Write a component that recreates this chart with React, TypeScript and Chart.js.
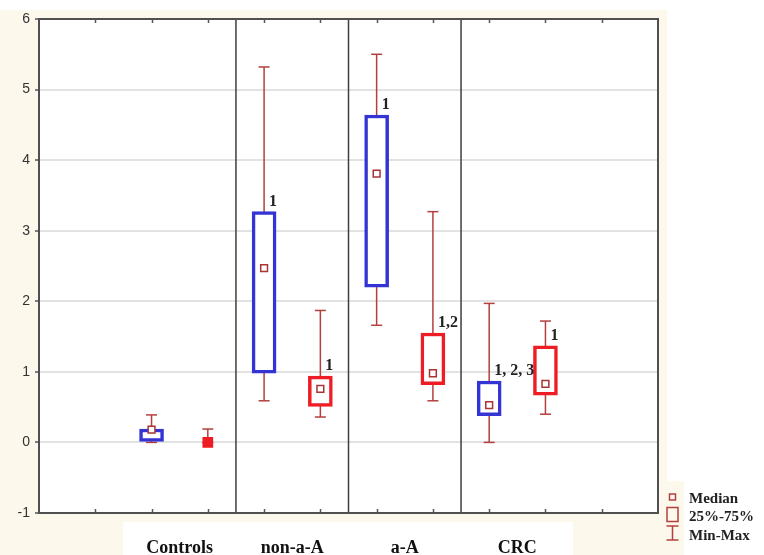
import React, { useEffect, useRef } from 'react';
import { Chart, registerables } from 'chart.js';

Chart.register(...registerables);

// ---- data ----
const categories = ['Controls', 'non-a-A', 'a-A', 'CRC'];

const blueMin = [0, 0.59, 1.66, 0];
const blueQ1 = [0, 0.98, 2.2, 0.38];
const blueMedian = [0.18, 2.47, 3.81, 0.53];
const blueQ3 = [0.19, 3.27, 4.64, 0.87];
const blueMax = [0.39, 5.32, 5.5, 1.97];

const redMin = [0, 0.36, 0.59, 0.4];
const redQ1 = [0, 0.51, 0.82, 0.67];
const redMedian = [0, 0.76, 0.98, 0.83];
const redQ3 = [0, 0.94, 1.55, 1.37];
const redMax = [0.19, 1.87, 3.27, 1.72];

const blueNotes = ['', '1', '1', '1, 2, 3'];
const redNotes = ['', '1', '1,2', '1'];

const yTicks = [-1, 0, 1, 2, 3, 4, 5, 6];
const xTickMarks = [0.5, 1, 1.5, 2, 2.5, 3, 3.5, 4, 4.5, 5];
const legendLabels = ['Median', '25%-75%', 'Min-Max'];

// ---- styles ----
const BLUE = '#3434d4';
const RED = '#ee1c24';
const WHISKER = '#b3403f';
const MEDIAN = '#a83434';
const CREAM = '#fdf8ec';
const SERIF = "'Liberation Serif', 'Times New Roman', serif";
const SANS = "'Liberation Sans', Arial, sans-serif";

const blueX = categories.map((_, i) => i + 1);
const redX = categories.map((_, i) => i + 1.5);
const dividerX = categories.slice(0, -1).map((_, i) => i + 1.75);
const labelX = categories.map((_, i) => i + 1.25);

const whiskerData: any[] = [];
categories.forEach((_, i) => {
  whiskerData.push({ x: blueX[i], y: blueMin[i] }, { x: blueX[i], y: blueMax[i] }, { x: blueX[i], y: null });
  whiskerData.push({ x: redX[i], y: redMin[i] }, { x: redX[i], y: redMax[i] }, { x: redX[i], y: null });
});

const boxData: any[] = [
  ...categories.map((_, i) => ({ x: blueX[i], y: [blueQ1[i], blueQ3[i]] })),
  ...categories.map((_, i) => ({ x: redX[i], y: [redQ1[i], redQ3[i]] })),
];
const boxColors = [...categories.map(() => BLUE), ...categories.map(() => RED)];

const medianData: any[] = [
  ...categories.map((_, i) => ({ x: blueX[i], y: blueMedian[i] })),
  ...categories.map((_, i) => ({ x: redX[i], y: redMedian[i] })),
];
const medianFlat = [
  ...categories.map((_, i) => blueQ1[i] === blueQ3[i]),
  ...categories.map((_, i) => redQ1[i] === redQ3[i]),
];

const dividerData: any[] = [];
dividerX.forEach((x) => {
  dividerData.push({ x, y: yTicks[0] }, { x, y: yTicks[yTicks.length - 1] }, { x, y: null });
});

const decorPlugin = {
  id: 'decor',
  beforeDraw(chart: any) {
    const { ctx, chartArea: a } = chart;
    ctx.save();
    ctx.fillStyle = '#ffffff';
    ctx.fillRect(0, 0, chart.width, chart.height);
    ctx.fillStyle = CREAM;
    ctx.fillRect(0, 10, 667, chart.height - 10);
    ctx.fillRect(663, 481, 21, chart.height - 481);
    ctx.fillStyle = '#ffffff';
    ctx.fillRect(123, 522, 450, chart.height - 522);
    ctx.fillRect(a.left, a.top, a.right - a.left, a.bottom - a.top);
    ctx.restore();
  },
  afterDatasetsDraw(chart: any) {
    const { ctx, chartArea: a, scales } = chart;
    const xs = scales.x;
    ctx.save();
    ctx.strokeStyle = '#555555';
    ctx.lineWidth = 1.5;
    xTickMarks.forEach((v) => {
      const px = Math.round(xs.getPixelForValue(v)) + 0.5;
      ctx.beginPath();
      ctx.moveTo(px, a.bottom);
      ctx.lineTo(px, a.bottom - 4);
      ctx.moveTo(px, a.top);
      ctx.lineTo(px, a.top + 4);
      ctx.stroke();
    });
    ctx.lineWidth = 2;
    ctx.strokeStyle = '#505050';
    ctx.strokeRect(a.left, a.top, a.right - a.left, a.bottom - a.top);
    ctx.restore();
  },
  afterDraw(chart: any) {
    const { ctx, scales } = chart;
    const xs = scales.x;
    const ys = scales.y;
    ctx.save();
    // significance notes
    ctx.fillStyle = '#222222';
    ctx.font = `bold 16px ${SERIF}`;
    ctx.textAlign = 'left';
    ctx.textBaseline = 'alphabetic';
    categories.forEach((_, i) => {
      if (blueNotes[i]) {
        ctx.fillText(blueNotes[i], xs.getPixelForValue(blueX[i]) + 5, ys.getPixelForValue(blueQ3[i]) - 6);
      }
      if (redNotes[i]) {
        ctx.fillText(redNotes[i], xs.getPixelForValue(redX[i]) + 5, ys.getPixelForValue(redQ3[i]) - 6);
      }
    });
    // category labels
    ctx.fillStyle = '#111111';
    ctx.font = `bold 18px ${SERIF}`;
    ctx.textAlign = 'center';
    categories.forEach((c, i) => {
      ctx.fillText(c, xs.getPixelForValue(labelX[i]), 553);
    });
    // legend
    const ix = 672.5;
    const tx = 689;
    const ly = [497, 515, 534];
    ctx.strokeStyle = WHISKER;
    ctx.lineWidth = 1.5;
    ctx.strokeRect(ix - 3, ly[0] - 3, 6, 6);
    ctx.strokeRect(ix - 5.5, ly[1] - 7.5, 11, 14);
    ctx.beginPath();
    ctx.moveTo(ix - 6, ly[2] - 8);
    ctx.lineTo(ix + 6, ly[2] - 8);
    ctx.moveTo(ix, ly[2] - 8);
    ctx.lineTo(ix, ly[2] + 6);
    ctx.moveTo(ix - 6, ly[2] + 6);
    ctx.lineTo(ix + 6, ly[2] + 6);
    ctx.stroke();
    ctx.fillStyle = '#222222';
    ctx.font = `bold 15px ${SERIF}`;
    ctx.textAlign = 'left';
    ctx.textBaseline = 'middle';
    legendLabels.forEach((t, i) => {
      ctx.fillText(t, tx, ly[i] + 2);
    });
    ctx.restore();
  },
};

export default function App() {
  const ref = useRef<HTMLCanvasElement>(null);
  useEffect(() => {
    const chart = new Chart(ref.current as HTMLCanvasElement, {
      type: 'bar',
      data: {
        datasets: [
          {
            type: 'scatter',
            label: 'Median',
            data: medianData,
            order: 0,
            showLine: false,
            pointStyle: 'rect',
            pointRadius: medianFlat.map((f) => (f ? 6.5 : 4.8)),
            pointBorderWidth: 1.5,
            pointBorderColor: medianFlat.map((f) => (f ? RED : MEDIAN)),
            pointBackgroundColor: medianFlat.map((f) => (f ? RED : '#ffffff')),
          } as any,
          {
            type: 'bar',
            label: '25%-75%',
            data: boxData,
            order: 1,
            grouped: false,
            barThickness: 24,
            borderWidth: 3.5,
            borderSkipped: false,
            borderColor: boxColors,
            backgroundColor: '#ffffff',
          } as any,
          {
            type: 'line',
            label: 'Min-Max',
            data: whiskerData,
            order: 2,
            borderColor: WHISKER,
            borderWidth: 1.5,
            spanGaps: false,
            pointStyle: 'line',
            pointRadius: 5.5,
            pointBorderWidth: 1.5,
            pointBorderColor: WHISKER,
            fill: false,
          } as any,
          {
            type: 'line',
            label: 'dividers',
            data: dividerData,
            order: 3,
            borderColor: '#3e3e3e',
            borderWidth: 1.5,
            pointRadius: 0,
            spanGaps: false,
            fill: false,
          } as any,
        ],
      },
      options: {
        responsive: false,
        animation: false,
        devicePixelRatio: 1,
        layout: { padding: { left: 0, top: 19, right: 106, bottom: 42 } },
        plugins: { legend: { display: false }, tooltip: { enabled: false } },
        scales: {
          x: {
            type: 'linear',
            display: false,
            min: 0,
            max: 5.5,
            offset: false,
            grid: { offset: false },
          },
          y: {
            type: 'linear',
            min: -1,
            max: 6,
            afterFit: (s: any) => {
              s.width = 39;
            },
            afterBuildTicks: (s: any) => {
              s.ticks = yTicks.map((v) => ({ value: v }));
            },
            border: { display: false },
            grid: {
              color: '#e2e2e2',
              lineWidth: 2,
              drawTicks: true,
              tickLength: 4,
              tickColor: '#555555',
              tickWidth: 1.5,
            },
            ticks: {
              padding: 5,
              color: '#333333',
              font: { family: SANS, size: 14 },
            },
          },
        },
      } as any,
      plugins: [decorPlugin],
    });
    return () => chart.destroy();
  }, []);
  return (
    <div style={{ position: 'absolute', left: 0, top: 0, width: 764, height: 555 }}>
      <canvas ref={ref} width={764} height={555} style={{ display: 'block' }} />
    </div>
  );
}
